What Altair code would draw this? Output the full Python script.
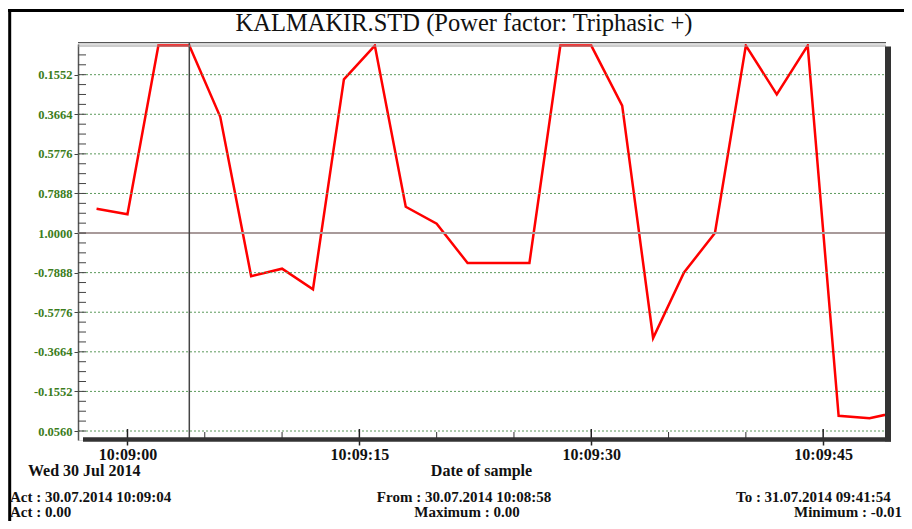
import altair as alt
import pandas as pd

# ---------------- data ----------------
title_text = "KALMAKIR.STD (Power factor: Triphasic +)"
times = ["10:08:58", "10:09:00", "10:09:02", "10:09:04", "10:09:06", "10:09:08",
         "10:09:10", "10:09:12", "10:09:14", "10:09:16", "10:09:18", "10:09:20",
         "10:09:22", "10:09:24", "10:09:26", "10:09:28", "10:09:30", "10:09:32",
         "10:09:34", "10:09:36", "10:09:38", "10:09:40", "10:09:42", "10:09:44",
         "10:09:46", "10:09:48", "10:09:50"]
pf_values = [0.87, 0.90, 0.00, 0.00, 0.38, -0.77, -0.81, -0.70, 0.18, 0.00,
             0.86, 0.95, -0.84, -0.84, -0.84, 0.00, 0.00, 0.32, -0.44, -0.79,
             1.00, 0.00, 0.26, 0.00, -0.025, -0.012, -0.048]
y_tick_labels = ["0.1552", "0.3664", "0.5776", "0.7888", "1.0000",
                 "-0.7888", "-0.5776", "-0.3664", "-0.1552", "0.0560"]
x_tick_labels = ["10:09:00", "10:09:15", "10:09:30", "10:09:45"]
x_minor_times = ["10:09:05", "10:09:10", "10:09:20", "10:09:25", "10:09:35", "10:09:40"]
date_label = "Wed 30 Jul 2014"
x_title = "Date of sample"
cursor_time = "10:09:04"
footer_row1 = ["Act : 30.07.2014 10:09:04", "From : 30.07.2014 10:08:58", "To : 31.07.2014 09:41:54"]
footer_row2 = ["Act : 0.00", "Maximum : 0.00", "Minimum : -0.01"]

# ---------------- helpers ----------------
def secs(t):
    h, m, s = map(int, t.split(":"))
    return (h * 3600 + m * 60 + s) - (10 * 3600 + 9 * 60)

# power-factor display wraps: positive values top half, negative values bottom half
def wrap(p):
    return p + 2 if p < 0 else p

STEP = 0.2112
grid_u = [round(0.1552 + STEP * i, 4) for i in range(len(y_tick_labels))]
minor_u = [round(0.1552 + STEP / 4 * k, 4) for k in range(-2, 37)]

df = pd.DataFrame({"time": times, "pf": pf_values,
                   "sec": [secs(t) for t in times],
                   "u": [wrap(p) for p in pf_values]})
grid_df = pd.DataFrame({"u": grid_u, "lab": y_tick_labels})
minor_df = pd.DataFrame({"u": minor_u})
xmaj_df = pd.DataFrame({"sec": [secs(t) for t in x_tick_labels]})
xmin_df = pd.DataFrame({"sec": [secs(t) for t in x_minor_times]})
cursor_df = pd.DataFrame({"sec": [secs(cursor_time)]})

W, H = 807, 396
FONT = "Liberation Serif"
GREEN = "#3c7d1c"

xscale = alt.Scale(domain=[-3.2, 49.0], nice=False, zero=False)
yscale = alt.Scale(domain=[-0.0085, 2.104], reverse=True, nice=False, zero=False)

y_expr = "[" + ",".join("'%s'" % s for s in y_tick_labels) + "][round((datum.value - 0.1552) / 0.2112)]"
x_expr = "[" + ",".join("'%s'" % s for s in x_tick_labels) + "][round(datum.value / 15)]"

xaxis = alt.Axis(values=[secs(t) for t in x_tick_labels], labelExpr=x_expr,
                 title=None, grid=False, domain=False, tickSize=5,
                 tickWidth=1.5, tickColor="#222222", labelFont=FONT,
                 labelFontSize=16, labelFontWeight="bold", labelColor="#111111",
                 labelPadding=1)
yaxis = alt.Axis(values=grid_u, labelExpr=y_expr, title=None, grid=False,
                 domainColor="#555555", domainWidth=1.5, tickSize=4,
                 tickColor="#444444", tickWidth=1, labelFont=FONT,
                 labelFontSize=12.5, labelFontWeight="bold",
                 labelColor=GREEN, labelPadding=2)

X = lambda: alt.X("sec:Q", scale=xscale, axis=xaxis)
Y = lambda: alt.Y("u:Q", scale=yscale, axis=yaxis)

# ---------------- layers ----------------
line = alt.Chart(df).mark_line(color="#ff0000", strokeWidth=2.5, clip=True).encode(
    x=X(), y=Y())

grid_dotted = alt.Chart(grid_df).transform_filter("datum.lab != '1.0000'").mark_rule(
    color="#5c9a5c", strokeWidth=1, strokeDash=[2, 2]
).encode(y=Y(), x=alt.value(0), x2=alt.value(W))

grid_one = alt.Chart(grid_df).transform_filter("datum.lab == '1.0000'").mark_rule(
    color="#a89a9a", strokeWidth=2
).encode(y=Y(), x=alt.value(0), x2=alt.value(W))

cursor = alt.Chart(cursor_df).mark_rule(color="#444444", strokeWidth=1.5).encode(
    x=X(), y=alt.value(-1), y2=alt.value(H))

top1 = alt.Chart(cursor_df).mark_rule(color="#555555", strokeWidth=1.3).encode(
    x=alt.value(0), x2=alt.value(W + 1), y=alt.value(-1.3))
top2 = alt.Chart(cursor_df).mark_rule(color="#999999", strokeWidth=1).encode(
    x=alt.value(0), x2=alt.value(W + 1), y=alt.value(2))

ytick_in = alt.Chart(minor_df).mark_rule(color="#444444", strokeWidth=1).encode(
    y=Y(), x=alt.value(0), x2=alt.value(8))

xtick_maj = alt.Chart(xmaj_df).mark_rule(color="#222222", strokeWidth=1.5).encode(
    x=X(), y=alt.value(385), y2=alt.value(H))
xtick_min = alt.Chart(xmin_df).mark_rule(color="#333333", strokeWidth=1).encode(
    x=X(), y=alt.value(388), y2=alt.value(H))

bottom_bar = alt.Chart(cursor_df).mark_rule(color="#333333", strokeWidth=4.5).encode(
    x=alt.value(5), x2=alt.value(W + 6), y=alt.value(H - 0.5))
right_bar = alt.Chart(cursor_df).mark_rule(color="#333333", strokeWidth=6).encode(
    x=alt.value(W + 3), y=alt.value(2.5), y2=alt.value(H + 1.5))

frame_left = alt.Chart(cursor_df).mark_rule(color="#000000", strokeWidth=3).encode(
    x=alt.value(-68.3), y=alt.value(-35), y2=alt.value(H + 100))
frame_top = alt.Chart(cursor_df).mark_rule(color="#000000", strokeWidth=3).encode(
    x=alt.value(-70), x2=alt.value(W + 40), y=alt.value(-33.5))


def label(text, x, y, align="left", size=15, weight="bold"):
    return alt.Chart(pd.DataFrame({"t": [text]})).mark_text(
        align=align, baseline="alphabetic", font=FONT, fontSize=size,
        fontWeight=weight, color="#111111"
    ).encode(text="t:N", x=alt.value(x), y=alt.value(y))


texts = [
    label(title_text, 386, -13.5, align="center", size=24.5, weight="normal"),
    label(date_label, -50, 431.5, size=16),
    label(x_title, 403.5, 432, align="center", size=16),
    label(footer_row1[0], -68, 458),
    label(footer_row1[1], 386, 458, align="center"),
    label(footer_row1[2], 658, 458),
    label(footer_row2[0], -68, 473),
    label(footer_row2[1], 389, 473, align="center"),
    label(footer_row2[2], 716, 473),
]

chart = alt.layer(
    line, grid_dotted, grid_one, cursor, top1, top2, ytick_in, xtick_maj, xtick_min,
    bottom_bar, right_bar, frame_left, frame_top, *texts
).properties(
    width=W, height=H,
    padding={"left": 70, "top": 36, "right": 19, "bottom": 81},
    autosize=alt.AutoSizeParams(type="none"),
).configure_view(stroke=None).configure(background="white")

chart.save("out.html", embed_options={"renderer": "svg", "actions": False})
